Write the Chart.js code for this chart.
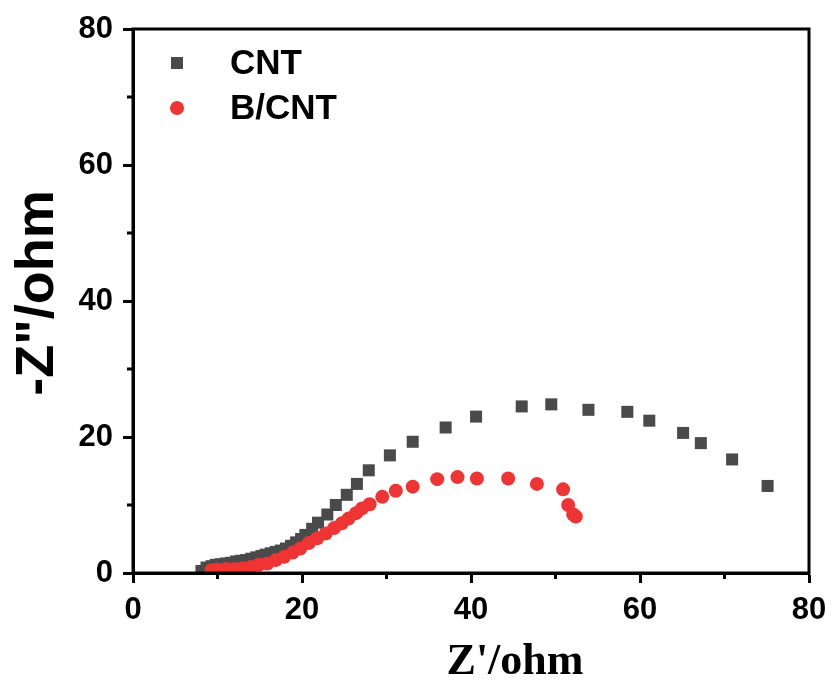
<!DOCTYPE html>
<html>
<head>
<meta charset="utf-8">
<script src="https://cdn.jsdelivr.net/npm/chart.js@4.4.0/dist/chart.umd.min.js"></script>
<style>
  html, body { margin: 0; padding: 0; background: #fff; }
  #eis { display: block; }
</style>
</head>
<body>
<canvas id="eis" width="837" height="686"></canvas>
<script>
// Nyquist data (Z' and -Z'' in ohm)
const cntZre = [8.1, 8.7, 9.3, 9.8, 10.4, 11.0, 11.6, 12.2, 12.8, 13.4, 14.0, 14.6, 15.2, 15.7, 16.3, 16.9, 17.5, 18.1, 18.7, 19.3, 19.9, 20.4, 21.2, 21.9, 23.0, 24.0, 25.3, 26.5, 27.9, 30.4, 33.1, 37.0, 40.6, 46.0, 49.5, 53.9, 58.5, 61.1, 65.1, 67.2, 70.9, 75.1];
const cntZim = [0.3, 0.8, 1.0, 1.2, 1.3, 1.4, 1.5, 1.7, 1.8, 1.9, 2.1, 2.3, 2.5, 2.7, 2.9, 3.1, 3.3, 3.6, 4.0, 4.5, 5.0, 5.6, 6.5, 7.4, 8.6, 10.0, 11.5, 13.1, 15.1, 17.3, 19.3, 21.4, 23.0, 24.5, 24.8, 24.0, 23.7, 22.4, 20.6, 19.1, 16.7, 12.8];

const bcntZre = [9.3, 10.0, 11.0, 12.0, 13.0, 14.0, 14.9, 15.9, 16.9, 17.9, 18.9, 19.8, 20.8, 21.8, 22.8, 23.8, 24.7, 25.5, 26.4, 27.1, 28.0, 29.5, 31.1, 33.1, 36.0, 38.4, 40.7, 44.4, 47.8, 50.9, 51.5, 52.1, 52.4];
const bcntZim = [0.4, 0.5, 0.6, 0.6, 0.7, 0.9, 1.2, 1.4, 1.9, 2.4, 3.0, 3.6, 4.4, 5.1, 5.8, 6.6, 7.3, 8.0, 8.8, 9.5, 10.1, 11.2, 12.1, 12.7, 13.8, 14.1, 13.9, 13.9, 13.1, 12.3, 10.0, 8.6, 8.3];

const axisMajor = [0, 20, 40, 60, 80];
const axisMinor = [10, 30, 50, 70];

const toPoints = (xs, ys) => xs.map((x, i) => ({ x: x, y: ys[i] }));

const sansBold = "'Liberation Sans', Arial, sans-serif";
const serifBold = "'Liberation Serif', 'Times New Roman', serif";

// frame, minor ticks, axis titles and the in-plot legend
const decorations = {
  id: "decorations",
  afterDraw(chart) {
    const ctx = chart.ctx;
    const area = chart.chartArea;
    const xs = chart.scales.x;
    const ys = chart.scales.y;
    ctx.save();

    // box around plot
    ctx.strokeStyle = "#000";
    ctx.lineWidth = 3;
    ctx.strokeRect(area.left, area.top, area.right - area.left, area.bottom - area.top);

    // minor ticks (outward, short)
    ctx.lineWidth = 3;
    ctx.beginPath();
    axisMinor.forEach((v) => {
      const px = xs.getPixelForValue(v);
      ctx.moveTo(px, area.bottom);
      ctx.lineTo(px, area.bottom + 6);
      const py = ys.getPixelForValue(v);
      ctx.moveTo(area.left, py);
      ctx.lineTo(area.left - 6, py);
    });
    ctx.stroke();

    // axis titles
    ctx.fillStyle = "#000";
    ctx.textAlign = "center";
    ctx.textBaseline = "middle";
    ctx.font = "bold 44px " + serifBold;
    ctx.fillText("Z'/ohm", 515, 663);

    ctx.save();
    ctx.translate(38, 293);
    ctx.rotate(-Math.PI / 2);
    ctx.font = "bold 54px " + sansBold;
    ctx.fillText('-Z"/ohm', 0, 0);
    ctx.restore();

    // legend
    ctx.textAlign = "left";
    ctx.font = "bold 35px " + sansBold;
    chart.data.datasets.forEach((ds, i) => {
      const cy = 63 + i * 45;
      ctx.fillStyle = ds.backgroundColor;
      if (ds.pointStyle === "rect") {
        ctx.fillRect(171, cy - 6, 12, 12);
      } else {
        ctx.beginPath();
        ctx.arc(177, cy, 7, 0, Math.PI * 2);
        ctx.fill();
      }
      ctx.fillStyle = "#000";
      ctx.fillText(ds.label, 230, cy + 1);
    });
    ctx.restore();
  }
};

const ctx = document.getElementById("eis").getContext("2d");
new Chart(ctx, {
  type: "scatter",
  data: {
    datasets: [
      {
        label: "CNT",
        data: toPoints(cntZre, cntZim),
        pointStyle: "rect",
        pointRadius: 8.5,
        backgroundColor: "#4a4a4a",
        borderWidth: 0,
        order: 2
      },
      {
        label: "B/CNT",
        data: toPoints(bcntZre, bcntZim),
        pointStyle: "circle",
        pointRadius: 7,
        backgroundColor: "#ef3434",
        borderWidth: 0,
        order: 1
      }
    ]
  },
  options: {
    responsive: false,
    animation: false,
    events: [],
    layout: { padding: { top: 29, right: 28, left: 0, bottom: 0 } },
    plugins: {
      legend: { display: false },
      tooltip: { enabled: false }
    },
    scales: {
      x: {
        type: "linear",
        min: 0,
        max: 80,
        afterFit: (scale) => { scale.height = 113; },
        afterBuildTicks: (scale) => { scale.ticks = axisMajor.map((v) => ({ value: v })); },
        border: { display: true, color: "#000", width: 3 },
        grid: { drawOnChartArea: false, drawTicks: true, tickLength: 10, tickWidth: 3, tickColor: "#000" },
        ticks: { color: "#000", padding: 9, maxRotation: 0, font: { family: sansBold, weight: "bold", size: 31 } }
      },
      y: {
        type: "linear",
        min: 0,
        max: 80,
        afterFit: (scale) => { scale.width = 133; },
        afterBuildTicks: (scale) => { scale.ticks = axisMajor.map((v) => ({ value: v })); },
        border: { display: true, color: "#000", width: 3 },
        grid: { drawOnChartArea: false, drawTicks: true, tickLength: 10, tickWidth: 3, tickColor: "#000" },
        ticks: { color: "#000", padding: 10, font: { family: sansBold, weight: "bold", size: 31 } }
      }
    }
  },
  plugins: [decorations]
});
</script>
</body>
</html>
